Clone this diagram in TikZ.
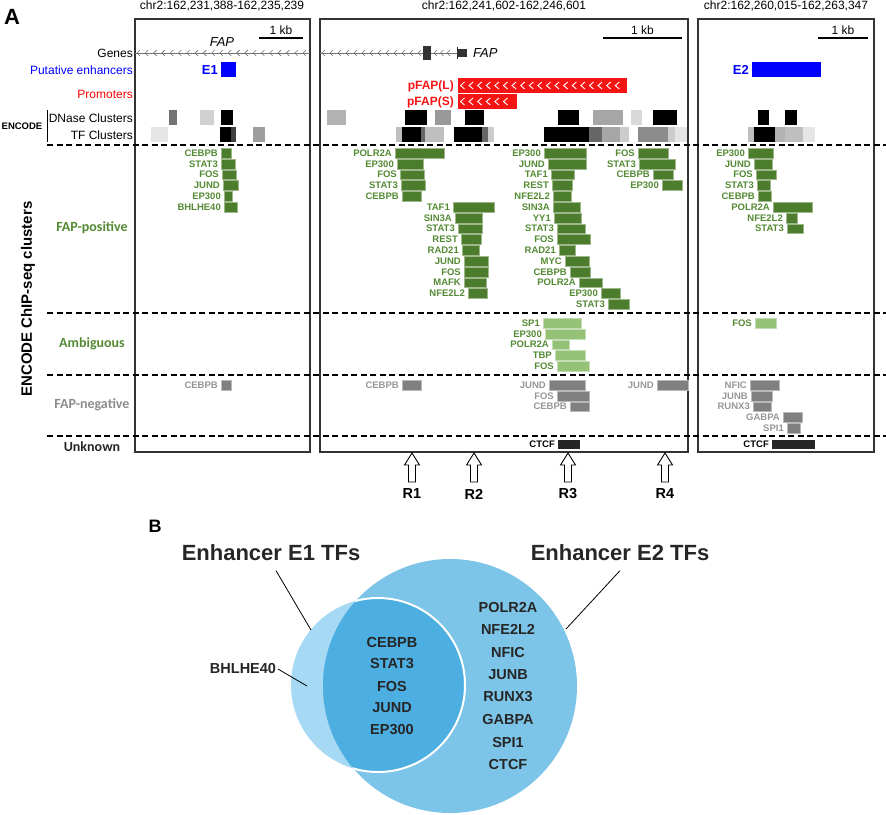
\documentclass[tikz,border=0pt]{standalone}
\usepackage{fontspec}
\setmainfont{Liberation Sans}
\newfontfamily\cali{Carlito}
\usetikzlibrary{calc}
\definecolor{posgreen}{RGB}{76,125,44}
\definecolor{postext}{RGB}{84,138,52}
\definecolor{ambgreen}{RGB}{150,194,120}
\definecolor{neggray}{RGB}{128,128,128}
\definecolor{negtext}{RGB}{150,150,150}
\definecolor{enhblue}{RGB}{0,0,255}
\definecolor{promred}{RGB}{245,20,20}
\definecolor{vennbig}{RGB}{125,197,232}
\definecolor{vennsmall}{RGB}{166,217,243}
\definecolor{vennmid}{RGB}{76,174,225}
\newcommand{\fsz}[1]{\fontsize{#1}{#1}\selectfont}
\tikzset{
    panel/.style={draw=black!80, line width=1.1pt},
    sepline/.style={dash pattern=on 6pt off 3.5pt, line width=1.8pt}, % category separators
    trklab/.style={anchor=east, inner sep=0pt, font=\fsz{12}},
    tflab/.style={anchor=east, inner sep=0pt, font=\bfseries\fsz{9.5}},
    posbar/.style={fill=posgreen, draw=posgreen!55!white, line width=0.4pt},
    ambbar/.style={fill=ambgreen, draw=ambgreen!55!white, line width=0.4pt},
    negbar/.style={fill=neggray, draw=neggray!55!white, line width=0.4pt},
    catlab/.style={font=\cali\bfseries\fsz{14}, inner sep=0pt},
    vennlab/.style={font=\bfseries\fsz{14.5}, text=black!85, inner sep=0pt},
    chev/.style={black!55, line width=0.6pt},
    uparrow/.pic={\draw[line width=0.9pt, fill=white] (0,0) -- (-7.5,12) -- (-3.5,12) -- (-3.5,29) -- (3.5,29) -- (3.5,12) -- (7.5,12) -- cycle;},
}

\begin{document}
\begin{tikzpicture}[x=1pt, y=-1pt]
    \useasboundingbox (0,0) rectangle (886,814);
    % ---- panel A ----
    \node[font=\bfseries\fsz{22}] (labA) at (12,17) {A};
    \node[font=\fsz{12}] (chrL) at (222,6) {chr2:162,231,388-162,235,239};
    \node[font=\fsz{12}] (chrM) at (504,6) {chr2:162,241,602-162,246,601};
    \node[font=\fsz{12}] (chrR) at (786,6) {chr2:162,260,015-162,263,347};
    \draw[panel] (135,19) rectangle (310,452);
    \draw[panel] (320,19) rectangle (688,452);
    \draw[panel] (698,19) rectangle (874,452);
    % scale bars
    \foreach \xa/\xb [count=\k] in {259/303, 603/682, 818/868} {
        \draw[line width=2.5pt] (\xa,38) -- (\xb,38);
        \node[font=\fsz{12}] (kb\k) at ({(\xa+\xb)/2},30) {1 kb};
    }
    % track names
    \node[trklab] (genes) at (133,53) {Genes};
    \node[trklab, text=enhblue] (enh) at (133,70) {Putative enhancers};
    \node[trklab, text=red] (prom) at (133,94) {Promoters};
    \node[trklab] (dnase) at (133,118) {DNase Clusters};
    \node[trklab] (tfc) at (133,135) {TF Clusters};
    \node[font=\bfseries\fsz{9.5}, inner sep=0pt] (encode) at (22,126) {ENCODE};
    \draw[line width=1pt] (47,110) -- (47,142);
    % genes
    \draw[chev] (135,53) -- (310,53);
    \foreach \cx in {138,146.3,...,308} \draw[chev] (\cx+2,50) -- (\cx-1,53) -- (\cx+2,56);
    \node[font=\itshape\fsz{13}] (fapL) at (222,42) {FAP};
    \draw[chev] (320,53) -- (457,53);
    \foreach \cx in {323,331,...,420,435,441.5,448} \draw[chev] (\cx+2,50) -- (\cx-1,53) -- (\cx+2,56);
    \fill[black!80] (423,46) rectangle (431,60);
    \draw[black!80, line width=0.8pt] (457,47) -- (457,59);
    \fill[black!80] (458,49) rectangle (467,57);
    \node[font=\itshape\fsz{13}, anchor=west, inner sep=0pt] (fapM) at (473,53) {FAP};
    % enhancers
    \node[font=\bfseries\fsz{13}, text=enhblue, anchor=east, inner sep=0pt] (e1) at (218,70) {E1};
    \fill[enhblue] (221,62) rectangle (236,77);
    \node[font=\bfseries\fsz{13}, text=enhblue, anchor=east, inner sep=0pt] (e2) at (749,70) {E2};
    \fill[enhblue] (752,62) rectangle (821,77);
    % promoters
    \fill[promred] (458,78) rectangle (627,93);
    \fill[promred] (458,94) rectangle (517,109);
    \foreach \cx in {462,470.6,...,618} \draw[white, line width=0.9pt] (\cx+2.5,82) -- (\cx-1.5,85.5) -- (\cx+2.5,89);
    \foreach \cx in {462,470.6,...,506} \draw[white, line width=0.9pt] (\cx+2.5,98) -- (\cx-1.5,101.5) -- (\cx+2.5,105);
    \node[font=\bfseries\fsz{12}, text=promred, anchor=east, inner sep=0pt] (pfapL) at (454,86) {pFAP(L)};
    \node[font=\bfseries\fsz{12}, text=promred, anchor=east, inner sep=0pt] (pfapS) at (454,102) {pFAP(S)};
    % ENCODE clusters
    \foreach \xa/\xb/\g in {169/177/55, 200/214/18, 221/233/100,
        327/346/30, 405/427/100, 435/451/40, 465/484/100, 558/579/100, 593/623/35, 631/642/15, 653/677/100,
        758/769/100, 785/797/100}
        \fill[black!\g] (\xa,110) rectangle (\xb,125);
    \foreach \xa/\xb/\g in {151/168/10, 220/231/100, 231/236/75, 253/265/38,
        396/402/25, 402/421/100, 421/425/60, 425/444/25, 454/482/100, 482/488/60, 488/494/20,
        544/589/100, 589/602/60, 602/620/35, 620/629/20, 638/668/45, 668/675/20, 675/687/10,
        748/754/25, 754/775/100, 775/785/30, 785/803/25, 803/815/10}
        \fill[black!\g] (\xa,127) rectangle (\xb,142);
    % separators
    \foreach \sy in {145,313,375,436} \draw[sepline] (47,\sy) -- (886,\sy);
    % categories
    \node[font=\bfseries\fsz{15}, rotate=90] (chip) at (28,299) {ENCODE ChIP-seq clusters};
    \node[catlab, text=postext] (catpos) at (92,228) {FAP-positive};
    \node[catlab, text=postext] (catamb) at (92,344) {Ambiguous};
    \node[catlab, text=black!45] (catneg) at (92,405) {FAP-negative};
    \node[catlab, text=black!85] (catunk) at (92,447) {Unknown};
    % FAP-positive clusters
    \foreach \rw/\xa/\xb/\nm [count=\k] in {0/221/231/CEBPB, 1/221/235/STAT3, 2/222/236/FOS, 3/223/238/JUND, 4/224/232/EP300, 5/224/237/BHLHE40,
        0/395/444/POLR2A, 1/397/423/EP300, 2/400/424/FOS, 3/401/425/STAT3, 4/402/421/CEBPB,
        5/453/494/TAF1, 6/455/482/SIN3A, 7/458/482/STAT3, 8/461/481/REST, 9/462/479/RAD21, 10/464/488/JUND, 11/464/488/FOS, 12/464/486/MAFK, 13/468/487/NFE2L2,
        0/544/586/EP300, 1/548/586/JUND, 2/551/574/TAF1, 3/552/572/REST, 4/553/571/NFE2L2, 5/553/580/SIN3A, 6/554/581/YY1, 7/557/585/STAT3,
        8/557/590/FOS, 9/559/575/RAD21, 10/565/589/MYC, 11/570/590/CEBPB, 12/579/602/POLR2A, 13/601/620/EP300, 14/608/629/STAT3,
        0/638/668/FOS, 1/639/675/STAT3, 2/653/673/CEBPB, 3/662/682/EP300,
        0/748/773/EP300, 1/754/772/JUND, 2/756/776/FOS, 3/757/770/STAT3, 4/758/771/CEBPB, 5/773/812/POLR2A, 6/786/797/NFE2L2, 7/787/803/STAT3} {
        \draw[posbar] (\xa,153+10.8*\rw-4.9) rectangle (\xb,153+10.8*\rw+4.9);
        \node[tflab, text=postext] (pos\k) at (\xa-3,153+10.8*\rw) {\nm};
    }
    % ambiguous clusters
    \foreach \rw/\xa/\xb/\nm [count=\k] in {0/543/581/SP1, 1/545/585/EP300, 2/552/569/POLR2A, 3/555/585/TBP, 4/557/589/FOS, 0/755/776/FOS} {
        \draw[ambbar] (\xa,323+10.8*\rw-4.9) rectangle (\xb,323+10.8*\rw+4.9);
        \node[tflab, text=postext] (amb\k) at (\xa-3,323+10.8*\rw) {\nm};
    }
    % FAP-negative clusters
    \foreach \rw/\xa/\xb/\nm [count=\k] in {0/221/231/CEBPB, 0/402/421/CEBPB, 0/549/585/JUND, 1/557/589/FOS, 2/570/589/CEBPB, 0/657/688/JUND,
        0/750/779/NFIC, 1/751/772/JUNB, 2/753/771/RUNX3, 3/783/802/GABPA, 4/787/800/SPI1} {
        \draw[negbar] (\xa,385+10.8*\rw-4.9) rectangle (\xb,385+10.8*\rw+4.9);
        \node[tflab, text=negtext] (neg\k) at (\xa-3,385+10.8*\rw) {\nm};
    }
    % unknown
    \foreach \xa/\xb [count=\k] in {558/580, 772/815} {
        \fill[black!85] (\xa,439.5) rectangle (\xb,449);
        \node[tflab, text=black] (unk\k) at (\xa-3,444) {CTCF};
    }
    % regions
    \foreach \ax/\nm in {412/R1, 474/R2, 568/R3, 665/R4} {
        \pic at (\ax,453) {uparrow};
        \node[font=\bfseries\fsz{14.5}] (\nm) at (\ax,494) {\nm};
    }
    % ---- panel B ----
    \node[font=\bfseries\fsz{18}] (labB) at (155,526) {B};
    \fill[vennsmall] (378,685) circle (87);
    \fill[vennbig] (450,686) circle (127);
    \begin{scope}
        \clip (450,686) circle (127);
        \fill[vennmid] (378,685) circle (87);
        \draw[white, line width=2pt] (378,685) circle (87);
    \end{scope}
    \node[font=\bfseries\fsz{22}, text=black!85] (e1tfs) at (271,553) {Enhancer E1 TFs};
    \node[font=\bfseries\fsz{22}, text=black!85] (e2tfs) at (620,553) {Enhancer E2 TFs};
    \coordinate (e1pt) at (311,630);
    \coordinate (e2pt) at (566,629);
    \draw[line width=0.8pt] ($(e1tfs.south)+(5,6)$) -- (e1pt);
    \draw[line width=0.8pt] ($(e2tfs.south)+(0,6)$) -- (e2pt);
    \node[vennlab] (bhl) at (243,668) {BHLHE40};
    \coordinate (bhlpt) at (307,686);
    \draw[line width=0.8pt, shorten <=2pt] (bhl.east) -- (bhlpt);
    \foreach \nm [count=\k] in {CEBPB,STAT3,FOS,JUND,EP300}
        \node[vennlab] (both\k) at (392,620+22*\k) {\nm};
    \foreach \nm [count=\k] in {POLR2A,NFE2L2,NFIC,JUNB,RUNX3,GABPA,SPI1,CTCF}
        \node[vennlab] (only\k) at (508,584.5+22.5*\k) {\nm};
\end{tikzpicture}
\end{document}
